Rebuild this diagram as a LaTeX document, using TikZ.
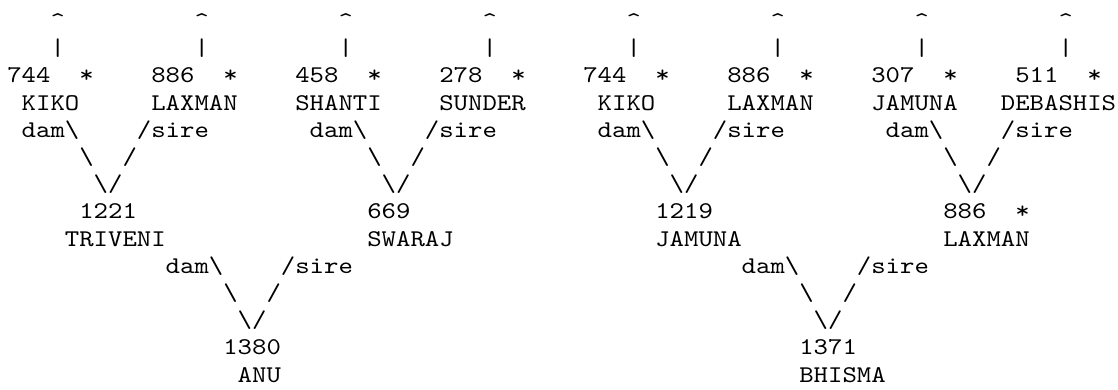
\documentclass[tikz,border=0pt]{standalone}
\usepackage{fontspec}
\newfontfamily\pedfont{lmmono10-regular.otf}[FakeStretch=1.1429]
\usepackage{tikz}

\begin{document}
\begin{tikzpicture}[
  x=7.2pt, y=-13.595pt,
  every node/.style={font=\fontsize{12pt}{13.6pt}\pedfont, inner sep=0pt,
                     outer sep=0pt, anchor=base west},
  animal/.style={text=black},
  glyph/.style={text=black},
]
  \useasboundingbox ([xshift=-3.65pt,yshift=14.3pt]0,0) rectangle ++(559pt,-195pt);

  % Grandparents: pointer up, id, founder star, name
  \foreach \c/\id/\nc/\nm [count=\i] in {0/744/1/KIKO, 10/886/10/LAXMAN,
      20/458/20/SHANTI, 30/278/30/SUNDER, 40/744/41/KIKO, 50/886/50/LAXMAN,
      60/307/60/JAMUNA, 70/511/69/DEBASHIS} {
    \node[glyph]  (up\i)   at (\c+3,0) {\textasciicircum};
    \node[glyph]  (bar\i)  at (\c+3,1) {|};
    \node[animal] (gid\i)  at (\c,2)   {\id};
    \node[glyph]  (gstar\i) at (\c+5,2) {*};
    \node[animal] (gnm\i)  at (\nc,3)  {\nm};
  }

  % dam/sire links down to each offspring column
  \foreach \k/\l [count=\i] in {5/4, 25/4, 45/4, 65/4, 15/9, 55/9} {
    \node[glyph] (dam\i)  at (\k-4,\l)   {dam\textbackslash};
    \node[glyph] (sire\i) at (\k+4,\l)   {/sire};
    \node[glyph] (dl\i)   at (\k,\l+1)   {\textbackslash};
    \node[glyph] (sl\i)   at (\k+3,\l+1) {/};
    \node[glyph] (dv\i)   at (\k+1,\l+2) {\textbackslash};
    \node[glyph] (sv\i)   at (\k+2,\l+2) {/};
  }

  % Parents
  \node[animal] (pid1) at (5,7)  {1221};
  \node[animal] (pnm1) at (4,8)  {TRIVENI};
  \node[animal] (pid2) at (25,7) {669};
  \node[animal] (pnm2) at (25,8) {SWARAJ};
  \node[animal] (pid3) at (45,7) {1219};
  \node[animal] (pnm3) at (45,8) {JAMUNA};
  \node[animal] (pid4) at (65,7) {886};
  \node[glyph]  (pstar4) at (70,7) {*};
  \node[animal] (pnm4) at (65,8) {LAXMAN};

  % Offspring
  \node[animal] (cid1) at (15,12) {1380};
  \node[animal] (cnm1) at (16,13) {ANU};
  \node[animal] (cid2) at (55,12) {1371};
  \node[animal] (cnm2) at (55,13) {BHISMA};
\end{tikzpicture}
\end{document}
